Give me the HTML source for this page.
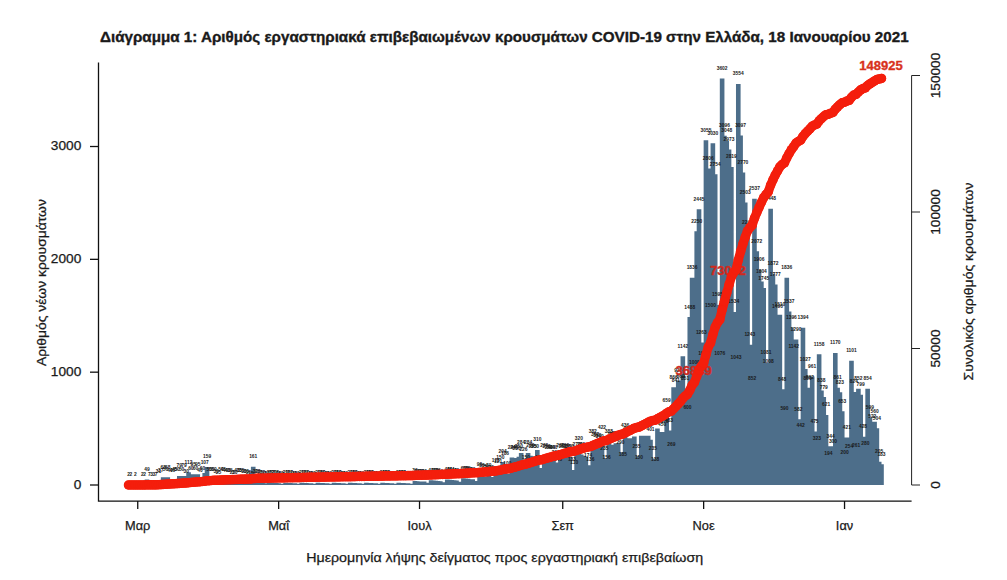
<!DOCTYPE html>
<html><head><meta charset="utf-8"><title>Διάγραμμα 1</title>
<style>html,body{margin:0;padding:0;background:#fff;width:1007px;height:580px;overflow:hidden}</style>
</head><body>
<svg width="1007" height="580" viewBox="0 0 1007 580" style="display:block;font-family:'Liberation Sans', sans-serif"><rect width="1007" height="580" fill="#fff"/><text x="100" y="41.9" font-size="14.6" font-weight="bold" fill="#1a1a1a" stroke="#1a1a1a" stroke-width="0.35" textLength="808.6" lengthAdjust="spacingAndGlyphs">Διάγραμμα 1: Αριθμός εργαστηριακά επιβεβαιωμένων κρουσμάτων COVID-19 στην Ελλάδα, 18 Ιανουαρίου 2021</text><path d="M126.19 484.77h4.62V485H126.19ZM128.50 484.77h4.62V485H128.50ZM133.12 484.77h4.62V485H133.12ZM140.05 484.77h4.62V485H140.05ZM142.36 484.77h4.62V485H142.36ZM144.67 479.47h4.62V485H144.67ZM146.98 484.21h4.62V485H146.98ZM149.29 484.66h4.62V485H149.29ZM151.60 484.66h4.62V485H151.60ZM153.91 484.21h4.62V485H153.91ZM156.22 481.50h4.62V485H156.22ZM158.53 480.83h4.62V485H158.53ZM160.84 477.33h4.62V485H160.84ZM163.15 479.36h4.62V485H163.15ZM165.46 477.33h4.62V485H165.46ZM167.77 480.49h4.62V485H167.77ZM170.08 480.49h4.62V485H170.08ZM172.39 479.92h4.62V485H172.39ZM174.70 479.36h4.62V485H174.70ZM177.01 476.09h4.62V485H177.01ZM179.32 479.36h4.62V485H179.32ZM181.63 476.09h4.62V485H181.63ZM183.94 481.62h4.62V485H183.94ZM186.25 472.36h4.62V485H186.25ZM188.55 478.23h4.62V485H188.55ZM190.86 474.28h4.62V485H190.86ZM193.17 478.23h4.62V485H193.17ZM195.48 474.28h4.62V485H195.48ZM197.79 480.49h4.62V485H197.79ZM200.10 478.23h4.62V485H200.10ZM202.41 472.93h4.62V485H202.41ZM204.72 467.06h4.62V485H204.72ZM207.03 479.36h4.62V485H207.03ZM209.34 479.36h4.62V485H209.34ZM211.65 479.36h4.62V485H211.65ZM213.96 481.62h4.62V485H213.96ZM216.27 482.18h4.62V485H216.27ZM218.58 479.36h4.62V485H218.58ZM220.89 479.92h4.62V485H220.89ZM223.20 480.49h4.62V485H223.20ZM225.51 480.49h4.62V485H225.51ZM227.82 481.05h4.62V485H227.82ZM230.13 482.18h4.62V485H230.13ZM232.44 482.74h4.62V485H232.44ZM234.75 480.49h4.62V485H234.75ZM237.06 481.05h4.62V485H237.06ZM239.37 481.05h4.62V485H239.37ZM241.68 481.62h4.62V485H241.68ZM243.99 481.62h4.62V485H243.99ZM246.30 482.74h4.62V485H246.30ZM248.61 483.31h4.62V485H248.61ZM250.92 466.83h4.62V485H250.92ZM253.23 481.62h4.62V485H253.23ZM255.54 481.84h4.62V485H255.54ZM257.85 482.18h4.62V485H257.85ZM260.16 482.52h4.62V485H260.16ZM262.47 483.31h4.62V485H262.47ZM264.78 483.65h4.62V485H264.78ZM267.09 482.18h4.62V485H267.09ZM269.40 482.52h4.62V485H269.40ZM271.71 482.74h4.62V485H271.71ZM274.02 482.97h4.62V485H274.02ZM276.33 483.19h4.62V485H276.33ZM278.64 483.87h4.62V485H278.64ZM280.95 484.10h4.62V485H280.95ZM283.26 482.74h4.62V485H283.26ZM285.57 482.97h4.62V485H285.57ZM287.88 483.08h4.62V485H287.88ZM290.19 483.19h4.62V485H290.19ZM292.50 483.31h4.62V485H292.50ZM294.81 483.87h4.62V485H294.81ZM297.12 484.10h4.62V485H297.12ZM299.43 482.74h4.62V485H299.43ZM301.74 482.97h4.62V485H301.74ZM304.04 483.08h4.62V485H304.04ZM306.35 483.19h4.62V485H306.35ZM308.66 483.31h4.62V485H308.66ZM310.97 483.87h4.62V485H310.97ZM313.28 484.10h4.62V485H313.28ZM315.59 482.74h4.62V485H315.59ZM317.90 482.97h4.62V485H317.90ZM320.21 483.08h4.62V485H320.21ZM322.52 483.19h4.62V485H322.52ZM324.83 483.31h4.62V485H324.83ZM327.14 483.87h4.62V485H327.14ZM329.45 484.10h4.62V485H329.45ZM331.76 482.74h4.62V485H331.76ZM334.07 482.97h4.62V485H334.07ZM336.38 483.08h4.62V485H336.38ZM338.69 483.19h4.62V485H338.69ZM341.00 483.31h4.62V485H341.00ZM343.31 483.87h4.62V485H343.31ZM345.62 484.10h4.62V485H345.62ZM347.93 482.74h4.62V485H347.93ZM350.24 482.97h4.62V485H350.24ZM352.55 483.08h4.62V485H352.55ZM354.86 483.19h4.62V485H354.86ZM357.17 483.31h4.62V485H357.17ZM359.48 483.87h4.62V485H359.48ZM361.79 484.10h4.62V485H361.79ZM364.10 482.74h4.62V485H364.10ZM366.41 482.97h4.62V485H366.41ZM368.72 483.08h4.62V485H368.72ZM371.03 483.19h4.62V485H371.03ZM373.34 483.31h4.62V485H373.34ZM375.65 483.87h4.62V485H375.65ZM377.96 484.10h4.62V485H377.96ZM380.27 482.74h4.62V485H380.27ZM382.58 482.97h4.62V485H382.58ZM384.89 483.08h4.62V485H384.89ZM387.20 483.19h4.62V485H387.20ZM389.51 483.31h4.62V485H389.51ZM391.82 483.87h4.62V485H391.82ZM394.13 484.10h4.62V485H394.13ZM396.44 482.74h4.62V485H396.44ZM398.75 482.97h4.62V485H398.75ZM401.06 483.08h4.62V485H401.06ZM403.37 483.19h4.62V485H403.37ZM405.68 483.31h4.62V485H405.68ZM407.99 483.87h4.62V485H407.99ZM410.30 484.10h4.62V485H410.30ZM412.61 480.94h4.62V485H412.61ZM414.92 481.16h4.62V485H414.92ZM417.23 481.39h4.62V485H417.23ZM419.53 481.62h4.62V485H419.53ZM421.84 481.62h4.62V485H421.84ZM424.15 482.74h4.62V485H424.15ZM426.46 483.19h4.62V485H426.46ZM428.77 480.26h4.62V485H428.77ZM431.08 480.49h4.62V485H431.08ZM433.39 480.71h4.62V485H433.39ZM435.70 480.94h4.62V485H435.70ZM438.01 481.16h4.62V485H438.01ZM440.32 482.29h4.62V485H440.32ZM442.63 482.97h4.62V485H442.63ZM444.94 479.58h4.62V485H444.94ZM447.25 479.81h4.62V485H447.25ZM449.56 480.04h4.62V485H449.56ZM451.87 480.26h4.62V485H451.87ZM454.18 480.49h4.62V485H454.18ZM456.49 481.84h4.62V485H456.49ZM458.80 482.74h4.62V485H458.80ZM461.11 478.23h4.62V485H461.11ZM463.42 478.46h4.62V485H463.42ZM465.73 478.79h4.62V485H465.73ZM468.04 479.13h4.62V485H468.04ZM470.35 479.36h4.62V485H470.35ZM472.66 480.94h4.62V485H472.66ZM474.97 481.84h4.62V485H474.97ZM477.28 474.85h4.62V485H477.28ZM479.59 475.97h4.62V485H479.59ZM481.90 476.54h4.62V485H481.90ZM484.21 477.10h4.62V485H484.21ZM486.52 475.97h4.62V485H486.52ZM488.83 477.10h4.62V485H488.83ZM491.14 478.23h4.62V485H491.14ZM493.45 470.56h4.62V485H493.45ZM495.76 471.35h4.62V485H495.76ZM498.07 468.08h4.62V485H498.07ZM500.38 461.98h4.62V485H500.38ZM502.69 464.01h4.62V485H502.69ZM505.00 473.72h4.62V485H505.00ZM507.31 477.10h4.62V485H507.31ZM509.62 457.47h4.62V485H509.62ZM511.93 457.92h4.62V485H511.93ZM514.24 459.05h4.62V485H514.24ZM516.55 456.79h4.62V485H516.55ZM518.86 452.96h4.62V485H518.86ZM521.17 459.50h4.62V485H521.17ZM523.48 468.08h4.62V485H523.48ZM525.79 452.96h4.62V485H525.79ZM528.10 455.66h4.62V485H528.10ZM530.41 456.23h4.62V485H530.41ZM532.72 456.79h4.62V485H532.72ZM535.02 450.02h4.62V485H535.02ZM537.33 467.96h4.62V485H537.33ZM539.64 471.46h4.62V485H539.64ZM541.95 455.66h4.62V485H541.95ZM544.26 456.79h4.62V485H544.26ZM546.57 457.92h4.62V485H546.57ZM548.88 457.92h4.62V485H548.88ZM551.19 457.92h4.62V485H551.19ZM553.50 462.43h4.62V485H553.50ZM555.81 469.20h4.62V485H555.81ZM558.12 455.66h4.62V485H558.12ZM560.43 456.68h4.62V485H560.43ZM562.74 455.66h4.62V485H562.74ZM565.05 456.79h4.62V485H565.05ZM567.36 456.79h4.62V485H567.36ZM569.67 469.99h4.62V485H569.67ZM571.98 472.59h4.62V485H571.98ZM574.29 454.54h4.62V485H574.29ZM576.60 448.89h4.62V485H576.60ZM578.91 454.54h4.62V485H578.91ZM581.22 455.66h4.62V485H581.22ZM583.53 456.79h4.62V485H583.53ZM585.84 465.37h4.62V485H585.84ZM588.15 469.66h4.62V485H588.15ZM590.46 441.90h4.62V485H590.46ZM592.77 444.16h4.62V485H592.77ZM595.08 445.51h4.62V485H595.08ZM597.39 446.64h4.62V485H597.39ZM599.70 437.39h4.62V485H599.70ZM602.01 458.48h4.62V485H602.01ZM604.32 467.40h4.62V485H604.32ZM606.63 441.22h4.62V485H606.63ZM608.94 444.72h4.62V485H608.94ZM611.25 444.72h4.62V485H611.25ZM613.56 443.25h4.62V485H613.56ZM615.87 443.25h4.62V485H615.87ZM618.18 452.28h4.62V485H618.18ZM620.49 464.13h4.62V485H620.49ZM622.80 435.81h4.62V485H622.80ZM625.11 438.18h4.62V485H625.11ZM627.42 438.18h4.62V485H627.42ZM629.73 438.18h4.62V485H629.73ZM632.04 436.60h4.62V485H632.04ZM634.35 456.23h4.62V485H634.35ZM636.66 468.08h4.62V485H636.66ZM638.97 435.81h4.62V485H638.97ZM641.28 435.81h4.62V485H641.28ZM643.59 435.81h4.62V485H643.59ZM645.90 435.81h4.62V485H645.90ZM648.21 439.76h4.62V485H648.21ZM650.51 458.48h4.62V485H650.51ZM652.82 469.43h4.62V485H652.82ZM655.13 428.58h4.62V485H655.13ZM657.44 431.97h4.62V485H657.44ZM659.75 434.23h4.62V485H659.75ZM662.06 431.97h4.62V485H662.06ZM664.37 410.65h4.62V485H664.37ZM666.68 430.50h4.62V485H666.68ZM668.99 454.65h4.62V485H668.99ZM671.30 387.29h4.62V485H671.30ZM673.61 390.11h4.62V485H673.61ZM675.92 380.41h4.62V485H675.92ZM678.23 386.95h4.62V485H678.23ZM680.54 356.15h4.62V485H680.54ZM682.85 388.98h4.62V485H682.85ZM685.16 417.30h4.62V485H685.16ZM687.47 317.11h4.62V485H687.47ZM689.78 277.84h4.62V485H689.78ZM692.09 372.17h4.62V485H692.09ZM694.40 231.13h4.62V485H694.40ZM696.71 209.13h4.62V485H696.71ZM699.02 342.50h4.62V485H699.02ZM701.33 363.14h4.62V485H701.33ZM703.64 140.30h4.62V485H703.64ZM705.95 168.40h4.62V485H705.95ZM708.26 315.75h4.62V485H708.26ZM710.57 143.13h4.62V485H710.57ZM712.88 174.27h4.62V485H712.88ZM715.19 305.04h4.62V485H715.19ZM717.50 363.59h4.62V485H717.50ZM719.81 78.59h4.62V485H719.81ZM722.12 135.68h4.62V485H722.12ZM724.43 141.09h4.62V485H724.43ZM726.74 149.56h4.62V485H726.74ZM729.05 166.93h4.62V485H729.05ZM731.36 311.92h4.62V485H731.36ZM733.67 367.32h4.62V485H733.67ZM735.98 84.00h4.62V485H735.98ZM738.29 135.57h4.62V485H738.29ZM740.60 172.46h4.62V485H740.60ZM742.91 202.59h4.62V485H742.91ZM745.22 232.26h4.62V485H745.22ZM747.53 344.75h4.62V485H747.53ZM749.84 388.87h4.62V485H749.84ZM752.15 198.75h4.62V485H752.15ZM754.46 251.22h4.62V485H754.46ZM756.77 269.95h4.62V485H756.77ZM759.08 281.45h4.62V485H759.08ZM761.39 288.11h4.62V485H761.39ZM763.70 363.03h4.62V485H763.70ZM766.00 371.27h4.62V485H766.00ZM768.31 208.79h4.62V485H768.31ZM770.62 273.78h4.62V485H770.62ZM772.93 284.50h4.62V485H772.93ZM775.24 316.88h4.62V485H775.24ZM777.55 314.63h4.62V485H777.55ZM779.86 389.32h4.62V485H779.86ZM782.17 418.43h4.62V485H782.17ZM784.48 277.84h4.62V485H784.48ZM786.79 311.58h4.62V485H786.79ZM789.10 327.49h4.62V485H789.10ZM791.41 356.15h4.62V485H791.41ZM793.72 339.45h4.62V485H793.72ZM796.03 419.33h4.62V485H796.03ZM798.34 435.13h4.62V485H798.34ZM800.65 327.71h4.62V485H800.65ZM802.96 369.12h4.62V485H802.96ZM805.27 389.09h4.62V485H805.27ZM807.58 387.74h4.62V485H807.58ZM809.89 376.57h4.62V485H809.89ZM812.20 431.41h4.62V485H812.20ZM814.51 448.56h4.62V485H814.51ZM816.82 354.34h4.62V485H816.82ZM819.13 390.45h4.62V485H819.13ZM821.44 397.11h4.62V485H821.44ZM823.75 414.93h4.62V485H823.75ZM826.06 463.11h4.62V485H826.06ZM828.37 446.19h4.62V485H828.37ZM830.68 451.15h4.62V485H830.68ZM832.99 352.99h4.62V485H832.99ZM835.30 387.85h4.62V485H835.30ZM837.61 392.14h4.62V485H837.61ZM839.92 411.32h4.62V485H839.92ZM842.23 462.43h4.62V485H842.23ZM844.54 437.50h4.62V485H844.54ZM846.85 456.34h4.62V485H846.85ZM849.16 360.77h4.62V485H849.16ZM851.47 392.03h4.62V485H851.47ZM853.78 455.55h4.62V485H853.78ZM856.09 388.87h4.62V485H856.09ZM858.40 394.85h4.62V485H858.40ZM860.71 436.71h4.62V485H860.71ZM863.02 453.41h4.62V485H863.02ZM865.33 388.64h4.62V485H865.33ZM867.64 417.41h4.62V485H867.64ZM869.95 426.10h4.62V485H869.95ZM872.26 421.82h4.62V485H872.26ZM874.57 428.13h4.62V485H874.57ZM876.88 461.87h4.62V485H876.88ZM879.19 464.35h4.62V485H879.19Z" fill="#4d6e8a"/><g font-size="4.9" font-weight="bold" fill="#1a1a1a" text-anchor="middle"><text x="128.50" y="476.17">2</text><text x="130.81" y="476.17">2</text><text x="135.43" y="476.17">2</text><text x="142.36" y="476.17">2</text><text x="144.67" y="476.17">2</text><text x="146.98" y="470.87">49</text><text x="149.29" y="475.61">7</text><text x="151.60" y="476.06">3</text><text x="153.91" y="476.06">3</text><text x="156.22" y="475.61">7</text><text x="158.53" y="472.90">31</text><text x="160.84" y="472.23">37</text><text x="163.15" y="468.73">68</text><text x="165.46" y="470.76">50</text><text x="167.77" y="468.73">68</text><text x="170.08" y="471.89">40</text><text x="172.39" y="471.89">40</text><text x="174.70" y="471.32">45</text><text x="177.01" y="470.76">50</text><text x="179.32" y="467.49">79</text><text x="181.63" y="470.76">50</text><text x="183.94" y="467.49">79</text><text x="186.25" y="473.02">30</text><text x="188.55" y="463.76">112</text><text x="190.86" y="469.63">60</text><text x="193.17" y="465.68">95</text><text x="195.48" y="469.63">60</text><text x="197.79" y="465.68">95</text><text x="200.10" y="471.89">40</text><text x="202.41" y="469.63">60</text><text x="204.72" y="464.33">107</text><text x="207.03" y="458.46">159</text><text x="209.34" y="470.76">50</text><text x="211.65" y="470.76">50</text><text x="213.96" y="470.76">50</text><text x="216.27" y="473.02">30</text><text x="218.58" y="473.58">25</text><text x="220.89" y="470.76">50</text><text x="223.20" y="471.32">45</text><text x="225.51" y="471.89">40</text><text x="227.82" y="471.89">40</text><text x="230.13" y="472.45">35</text><text x="232.44" y="473.58">25</text><text x="234.75" y="474.14">20</text><text x="237.06" y="471.89">40</text><text x="239.37" y="472.45">35</text><text x="241.68" y="472.45">35</text><text x="243.99" y="473.02">30</text><text x="246.30" y="473.02">30</text><text x="248.61" y="474.14">20</text><text x="250.92" y="474.71">15</text><text x="253.23" y="458.23">161</text><text x="255.54" y="473.02">30</text><text x="257.85" y="473.24">28</text><text x="260.16" y="473.58">25</text><text x="262.47" y="473.92">22</text><text x="264.78" y="474.71">15</text><text x="267.09" y="475.05">12</text><text x="269.40" y="473.58">25</text><text x="271.71" y="473.92">22</text><text x="274.02" y="474.14">20</text><text x="276.33" y="474.37">18</text><text x="278.64" y="474.59">16</text><text x="280.95" y="475.27">10</text><text x="283.26" y="475.50">8</text><text x="285.57" y="474.14">20</text><text x="287.88" y="474.37">18</text><text x="290.19" y="474.48">17</text><text x="292.50" y="474.59">16</text><text x="294.81" y="474.71">15</text><text x="297.12" y="475.27">10</text><text x="299.43" y="475.50">8</text><text x="301.74" y="474.14">20</text><text x="304.04" y="474.37">18</text><text x="306.35" y="474.48">17</text><text x="308.66" y="474.59">16</text><text x="310.97" y="474.71">15</text><text x="313.28" y="475.27">10</text><text x="315.59" y="475.50">8</text><text x="317.90" y="474.14">20</text><text x="320.21" y="474.37">18</text><text x="322.52" y="474.48">17</text><text x="324.83" y="474.59">16</text><text x="327.14" y="474.71">15</text><text x="329.45" y="475.27">10</text><text x="331.76" y="475.50">8</text><text x="334.07" y="474.14">20</text><text x="336.38" y="474.37">18</text><text x="338.69" y="474.48">17</text><text x="341.00" y="474.59">16</text><text x="343.31" y="474.71">15</text><text x="345.62" y="475.27">10</text><text x="347.93" y="475.50">8</text><text x="350.24" y="474.14">20</text><text x="352.55" y="474.37">18</text><text x="354.86" y="474.48">17</text><text x="357.17" y="474.59">16</text><text x="359.48" y="474.71">15</text><text x="361.79" y="475.27">10</text><text x="364.10" y="475.50">8</text><text x="366.41" y="474.14">20</text><text x="368.72" y="474.37">18</text><text x="371.03" y="474.48">17</text><text x="373.34" y="474.59">16</text><text x="375.65" y="474.71">15</text><text x="377.96" y="475.27">10</text><text x="380.27" y="475.50">8</text><text x="382.58" y="474.14">20</text><text x="384.89" y="474.37">18</text><text x="387.20" y="474.48">17</text><text x="389.51" y="474.59">16</text><text x="391.82" y="474.71">15</text><text x="394.13" y="475.27">10</text><text x="396.44" y="475.50">8</text><text x="398.75" y="474.14">20</text><text x="401.06" y="474.37">18</text><text x="403.37" y="474.48">17</text><text x="405.68" y="474.59">16</text><text x="407.99" y="474.71">15</text><text x="410.30" y="475.27">10</text><text x="412.61" y="475.50">8</text><text x="414.92" y="472.34">36</text><text x="417.23" y="472.56">34</text><text x="419.53" y="472.79">32</text><text x="421.84" y="473.02">30</text><text x="424.15" y="473.02">30</text><text x="426.46" y="474.14">20</text><text x="428.77" y="474.59">16</text><text x="431.08" y="471.66">42</text><text x="433.39" y="471.89">40</text><text x="435.70" y="472.11">38</text><text x="438.01" y="472.34">36</text><text x="440.32" y="472.56">34</text><text x="442.63" y="473.69">24</text><text x="444.94" y="474.37">18</text><text x="447.25" y="470.98">48</text><text x="449.56" y="471.21">46</text><text x="451.87" y="471.44">44</text><text x="454.18" y="471.66">42</text><text x="456.49" y="471.89">40</text><text x="458.80" y="473.24">28</text><text x="461.11" y="474.14">20</text><text x="463.42" y="469.63">60</text><text x="465.73" y="469.86">58</text><text x="468.04" y="470.19">55</text><text x="470.35" y="470.53">52</text><text x="472.66" y="470.76">50</text><text x="474.97" y="472.34">36</text><text x="477.28" y="473.24">28</text><text x="479.59" y="466.25">90</text><text x="481.90" y="467.37">80</text><text x="484.21" y="467.94">75</text><text x="486.52" y="468.50">70</text><text x="488.83" y="467.37">80</text><text x="491.14" y="468.50">70</text><text x="493.45" y="469.63">60</text><text x="495.76" y="461.96">128</text><text x="498.07" y="462.75">121</text><text x="500.38" y="459.48">150</text><text x="502.69" y="453.38">204</text><text x="505.00" y="455.41">186</text><text x="507.31" y="465.12">100</text><text x="509.62" y="468.50">70</text><text x="511.93" y="448.87">244</text><text x="514.24" y="449.32">240</text><text x="516.55" y="450.45">230</text><text x="518.86" y="448.19">250</text><text x="521.17" y="444.36">284</text><text x="523.48" y="450.90">226</text><text x="525.79" y="459.48">150</text><text x="528.10" y="444.36">284</text><text x="530.41" y="447.06">260</text><text x="532.72" y="447.63">255</text><text x="535.02" y="448.19">250</text><text x="537.33" y="441.42">310</text><text x="539.64" y="459.36">151</text><text x="541.95" y="462.86">120</text><text x="544.26" y="447.06">260</text><text x="546.57" y="448.19">250</text><text x="548.88" y="449.32">240</text><text x="551.19" y="449.32">240</text><text x="553.50" y="449.32">240</text><text x="555.81" y="453.83">200</text><text x="558.12" y="460.60">140</text><text x="560.43" y="447.06">260</text><text x="562.74" y="448.08">251</text><text x="565.05" y="447.06">260</text><text x="567.36" y="448.19">250</text><text x="569.67" y="448.19">250</text><text x="571.98" y="461.39">133</text><text x="574.29" y="463.99">110</text><text x="576.60" y="445.94">270</text><text x="578.91" y="440.29">320</text><text x="581.22" y="445.94">270</text><text x="583.53" y="447.06">260</text><text x="585.84" y="448.19">250</text><text x="588.15" y="456.77">174</text><text x="590.46" y="461.06">136</text><text x="592.77" y="433.30">382</text><text x="595.08" y="435.56">362</text><text x="597.39" y="436.91">350</text><text x="599.70" y="438.04">340</text><text x="602.01" y="428.79">422</text><text x="604.32" y="449.88">235</text><text x="606.63" y="458.80">156</text><text x="608.94" y="432.62">388</text><text x="611.25" y="436.12">357</text><text x="613.56" y="436.12">357</text><text x="615.87" y="434.65">370</text><text x="618.18" y="434.65">370</text><text x="620.49" y="443.68">290</text><text x="622.80" y="455.53">185</text><text x="625.11" y="427.21">436</text><text x="627.42" y="429.58">415</text><text x="629.73" y="429.58">415</text><text x="632.04" y="429.58">415</text><text x="634.35" y="428.00">429</text><text x="636.66" y="447.63">255</text><text x="638.97" y="459.48">150</text><text x="641.28" y="427.21">436</text><text x="643.59" y="427.21">436</text><text x="645.90" y="427.21">436</text><text x="648.21" y="427.21">436</text><text x="650.51" y="431.16">401</text><text x="652.82" y="449.88">235</text><text x="655.13" y="460.83">138</text><text x="657.44" y="419.98">500</text><text x="659.75" y="423.37">470</text><text x="662.06" y="425.63">450</text><text x="664.37" y="423.37">470</text><text x="666.68" y="402.05">659</text><text x="668.99" y="421.90">483</text><text x="671.30" y="446.05">269</text><text x="673.61" y="378.69">866</text><text x="675.92" y="381.51">841</text><text x="678.23" y="371.81">927</text><text x="680.54" y="378.35">869</text><text x="682.85" y="347.55">1142</text><text x="685.16" y="380.38">851</text><text x="687.47" y="408.70">600</text><text x="689.78" y="308.51">1488</text><text x="692.09" y="269.24">1836</text><text x="694.40" y="363.57">1000</text><text x="696.71" y="222.53">2250</text><text x="699.02" y="200.53">2445</text><text x="701.33" y="333.90">1263</text><text x="703.64" y="354.54">1080</text><text x="705.95" y="131.70">3055</text><text x="708.26" y="159.80">2806</text><text x="710.57" y="307.15">1500</text><text x="712.88" y="134.53">3030</text><text x="715.19" y="165.67">2754</text><text x="717.50" y="296.44">1595</text><text x="719.81" y="354.99">1076</text><text x="722.12" y="69.99">3602</text><text x="724.43" y="127.08">3096</text><text x="726.74" y="132.49">3048</text><text x="729.05" y="140.96">2973</text><text x="731.36" y="158.33">2819</text><text x="733.67" y="303.32">1534</text><text x="735.98" y="358.72">1043</text><text x="738.29" y="75.40">3554</text><text x="740.60" y="126.97">3097</text><text x="742.91" y="163.86">2770</text><text x="745.22" y="193.99">2503</text><text x="747.53" y="223.66">2240</text><text x="749.84" y="336.15">1243</text><text x="752.15" y="380.27">852</text><text x="754.46" y="190.15">2537</text><text x="756.77" y="242.62">2072</text><text x="759.08" y="261.35">1906</text><text x="761.39" y="272.85">1804</text><text x="763.70" y="279.51">1745</text><text x="766.00" y="354.43">1081</text><text x="768.31" y="362.67">1008</text><text x="770.62" y="200.19">2448</text><text x="772.93" y="265.18">1872</text><text x="775.24" y="275.90">1777</text><text x="777.55" y="308.28">1490</text><text x="779.86" y="306.03">1510</text><text x="782.17" y="380.72">848</text><text x="784.48" y="409.83">590</text><text x="786.79" y="269.24">1836</text><text x="789.10" y="302.98">1537</text><text x="791.41" y="318.89">1396</text><text x="793.72" y="347.55">1142</text><text x="796.03" y="330.85">1290</text><text x="798.34" y="410.73">582</text><text x="800.65" y="426.53">442</text><text x="802.96" y="319.11">1394</text><text x="805.27" y="360.52">1027</text><text x="807.58" y="380.49">850</text><text x="809.89" y="379.14">862</text><text x="812.20" y="367.97">961</text><text x="814.51" y="422.81">475</text><text x="816.82" y="439.96">323</text><text x="819.13" y="345.74">1158</text><text x="821.44" y="381.85">838</text><text x="823.75" y="388.51">779</text><text x="826.06" y="406.33">621</text><text x="828.37" y="454.51">194</text><text x="830.68" y="437.59">344</text><text x="832.99" y="442.55">300</text><text x="835.30" y="344.39">1170</text><text x="837.61" y="379.25">861</text><text x="839.92" y="383.54">823</text><text x="842.23" y="402.72">653</text><text x="844.54" y="453.83">200</text><text x="846.85" y="428.90">421</text><text x="849.16" y="447.74">254</text><text x="851.47" y="352.17">1101</text><text x="853.78" y="383.43">824</text><text x="856.09" y="446.95">261</text><text x="858.40" y="380.27">852</text><text x="860.71" y="386.25">799</text><text x="863.02" y="428.11">428</text><text x="865.33" y="444.81">280</text><text x="867.64" y="380.04">854</text><text x="869.95" y="408.81">599</text><text x="872.26" y="417.50">522</text><text x="874.57" y="413.22">560</text><text x="876.88" y="419.53">504</text><text x="879.19" y="453.27">205</text><text x="881.49" y="455.75">183</text></g><g font-size="13" font-weight="bold" fill="#cf2a1e" stroke="#cf2a1e" stroke-width="0.4" text-anchor="middle"><text x="693.6" y="375">36849</text><text x="728" y="275">73062</text></g><polyline points="128.50,484.99 130.81,484.99 133.12,484.99 135.43,484.98 137.74,484.98 140.05,484.98 142.36,484.98 144.67,484.97 146.98,484.84 149.29,484.82 151.60,484.81 153.91,484.80 156.22,484.78 158.53,484.70 160.84,484.60 163.15,484.41 165.46,484.27 167.77,484.08 170.08,483.97 172.39,483.86 174.70,483.74 177.01,483.60 179.32,483.39 181.63,483.25 183.94,483.03 186.25,482.95 188.55,482.64 190.86,482.48 193.17,482.22 195.48,482.05 197.79,481.79 200.10,481.68 202.41,481.51 204.72,481.22 207.03,480.78 209.34,480.65 211.65,480.51 213.96,480.37 216.27,480.29 218.58,480.22 220.89,480.08 223.20,479.96 225.51,479.85 227.82,479.74 230.13,479.64 232.44,479.57 234.75,479.52 237.06,479.41 239.37,479.31 241.68,479.22 243.99,479.13 246.30,479.05 248.61,479.00 250.92,478.96 253.23,478.51 255.54,478.43 257.85,478.35 260.16,478.29 262.47,478.22 264.78,478.18 267.09,478.15 269.40,478.08 271.71,478.02 274.02,477.97 276.33,477.92 278.64,477.87 280.95,477.85 283.26,477.82 285.57,477.77 287.88,477.72 290.19,477.67 292.50,477.63 294.81,477.59 297.12,477.56 299.43,477.54 301.74,477.48 304.04,477.43 306.35,477.39 308.66,477.34 310.97,477.30 313.28,477.27 315.59,477.25 317.90,477.20 320.21,477.15 322.52,477.10 324.83,477.06 327.14,477.02 329.45,476.99 331.76,476.97 334.07,476.91 336.38,476.86 338.69,476.81 341.00,476.77 343.31,476.73 345.62,476.70 347.93,476.68 350.24,476.63 352.55,476.58 354.86,476.53 357.17,476.49 359.48,476.44 361.79,476.42 364.10,476.39 366.41,476.34 368.72,476.29 371.03,476.24 373.34,476.20 375.65,476.16 377.96,476.13 380.27,476.11 382.58,476.05 384.89,476.00 387.20,475.96 389.51,475.91 391.82,475.87 394.13,475.84 396.44,475.82 398.75,475.77 401.06,475.72 403.37,475.67 405.68,475.63 407.99,475.59 410.30,475.56 412.61,475.54 414.92,475.44 417.23,475.34 419.53,475.26 421.84,475.17 424.15,475.09 426.46,475.04 428.77,474.99 431.08,474.88 433.39,474.77 435.70,474.66 438.01,474.56 440.32,474.47 442.63,474.40 444.94,474.35 447.25,474.22 449.56,474.10 451.87,473.98 454.18,473.86 456.49,473.75 458.80,473.67 461.11,473.62 463.42,473.45 465.73,473.29 468.04,473.14 470.35,473.00 472.66,472.86 474.97,472.76 477.28,472.69 479.59,472.44 481.90,472.22 484.21,472.01 486.52,471.82 488.83,471.60 491.14,471.41 493.45,471.24 495.76,470.89 498.07,470.56 500.38,470.15 502.69,469.59 505.00,469.08 507.31,468.80 509.62,468.61 511.93,467.94 514.24,467.28 516.55,466.65 518.86,465.96 521.17,465.18 523.48,464.56 525.79,464.14 528.10,463.36 530.41,462.65 532.72,461.95 535.02,461.26 537.33,460.41 539.64,459.99 541.95,459.66 544.26,458.95 546.57,458.26 548.88,457.60 551.19,456.94 553.50,456.28 555.81,455.73 558.12,455.35 560.43,454.63 562.74,453.94 565.05,453.23 567.36,452.54 569.67,451.86 571.98,451.49 574.29,451.19 576.60,450.45 578.91,449.57 581.22,448.82 583.53,448.11 585.84,447.42 588.15,446.94 590.46,446.57 592.77,445.52 595.08,444.53 597.39,443.56 599.70,442.63 602.01,441.47 604.32,440.82 606.63,440.39 608.94,439.33 611.25,438.35 613.56,437.37 615.87,436.35 618.18,435.33 620.49,434.53 622.80,434.03 625.11,432.83 627.42,431.69 629.73,430.55 632.04,429.41 634.35,428.23 636.66,427.53 638.97,427.11 641.28,425.91 643.59,424.72 645.90,423.52 648.21,422.32 650.51,421.22 652.82,420.57 655.13,420.19 657.44,418.82 659.75,417.53 662.06,416.29 664.37,415.00 666.68,413.19 668.99,411.86 671.30,411.12 673.61,408.74 675.92,406.43 678.23,403.88 680.54,401.49 682.85,398.35 685.16,396.01 687.47,394.36 689.78,390.27 692.09,385.23 694.40,382.48 696.71,376.30 699.02,369.58 701.33,366.10 703.64,363.14 705.95,354.74 708.26,347.03 710.57,342.90 712.88,334.58 715.19,327.01 717.50,322.62 719.81,319.66 722.12,309.76 724.43,301.26 726.74,292.88 729.05,284.71 731.36,276.96 733.67,272.74 735.98,269.88 738.29,260.11 740.60,251.59 742.91,243.98 745.22,237.10 747.53,230.95 749.84,227.53 752.15,225.19 754.46,218.21 756.77,212.52 759.08,207.28 761.39,202.32 763.70,197.53 766.00,194.55 768.31,191.78 770.62,185.06 772.93,179.91 775.24,175.03 777.55,170.93 779.86,166.78 782.17,164.45 784.48,162.83 786.79,157.78 789.10,153.56 791.41,149.72 793.72,146.58 796.03,143.04 798.34,141.44 800.65,140.22 802.96,136.39 805.27,133.57 807.58,131.23 809.89,128.86 812.20,126.22 814.51,124.92 816.82,124.03 819.13,120.84 821.44,118.54 823.75,116.40 826.06,114.69 828.37,114.16 830.68,113.21 832.99,112.39 835.30,109.17 837.61,106.81 839.92,104.55 842.23,102.75 844.54,102.20 846.85,101.04 849.16,100.35 851.47,97.32 853.78,95.06 856.09,94.34 858.40,92.00 860.71,89.80 863.02,88.62 865.33,87.85 867.64,85.51 869.95,83.86 872.26,82.43 874.57,80.89 876.88,79.50 879.19,78.94 881.49,78.43" fill="none" stroke="#f41e0c" stroke-width="9.2" stroke-linecap="round" stroke-linejoin="round"/><g fill="#f41e0c"><circle cx="128.50" cy="484.99" r="4.75"/><circle cx="130.81" cy="484.99" r="4.75"/><circle cx="133.12" cy="484.99" r="4.75"/><circle cx="135.43" cy="484.98" r="4.75"/><circle cx="137.74" cy="484.98" r="4.75"/><circle cx="140.05" cy="484.98" r="4.75"/><circle cx="142.36" cy="484.98" r="4.75"/><circle cx="144.67" cy="484.97" r="4.75"/><circle cx="146.98" cy="484.84" r="4.75"/><circle cx="149.29" cy="484.82" r="4.75"/><circle cx="151.60" cy="484.81" r="4.75"/><circle cx="153.91" cy="484.80" r="4.75"/><circle cx="156.22" cy="484.78" r="4.75"/><circle cx="158.53" cy="484.70" r="4.75"/><circle cx="160.84" cy="484.60" r="4.75"/><circle cx="163.15" cy="484.41" r="4.75"/><circle cx="165.46" cy="484.27" r="4.75"/><circle cx="167.77" cy="484.08" r="4.75"/><circle cx="170.08" cy="483.97" r="4.75"/><circle cx="172.39" cy="483.86" r="4.75"/><circle cx="174.70" cy="483.74" r="4.75"/><circle cx="177.01" cy="483.60" r="4.75"/><circle cx="179.32" cy="483.39" r="4.75"/><circle cx="181.63" cy="483.25" r="4.75"/><circle cx="183.94" cy="483.03" r="4.75"/><circle cx="186.25" cy="482.95" r="4.75"/><circle cx="188.55" cy="482.64" r="4.75"/><circle cx="190.86" cy="482.48" r="4.75"/><circle cx="193.17" cy="482.22" r="4.75"/><circle cx="195.48" cy="482.05" r="4.75"/><circle cx="197.79" cy="481.79" r="4.75"/><circle cx="200.10" cy="481.68" r="4.75"/><circle cx="202.41" cy="481.51" r="4.75"/><circle cx="204.72" cy="481.22" r="4.75"/><circle cx="207.03" cy="480.78" r="4.75"/><circle cx="209.34" cy="480.65" r="4.75"/><circle cx="211.65" cy="480.51" r="4.75"/><circle cx="213.96" cy="480.37" r="4.75"/><circle cx="216.27" cy="480.29" r="4.75"/><circle cx="218.58" cy="480.22" r="4.75"/><circle cx="220.89" cy="480.08" r="4.75"/><circle cx="223.20" cy="479.96" r="4.75"/><circle cx="225.51" cy="479.85" r="4.75"/><circle cx="227.82" cy="479.74" r="4.75"/><circle cx="230.13" cy="479.64" r="4.75"/><circle cx="232.44" cy="479.57" r="4.75"/><circle cx="234.75" cy="479.52" r="4.75"/><circle cx="237.06" cy="479.41" r="4.75"/><circle cx="239.37" cy="479.31" r="4.75"/><circle cx="241.68" cy="479.22" r="4.75"/><circle cx="243.99" cy="479.13" r="4.75"/><circle cx="246.30" cy="479.05" r="4.75"/><circle cx="248.61" cy="479.00" r="4.75"/><circle cx="250.92" cy="478.96" r="4.75"/><circle cx="253.23" cy="478.51" r="4.75"/><circle cx="255.54" cy="478.43" r="4.75"/><circle cx="257.85" cy="478.35" r="4.75"/><circle cx="260.16" cy="478.29" r="4.75"/><circle cx="262.47" cy="478.22" r="4.75"/><circle cx="264.78" cy="478.18" r="4.75"/><circle cx="267.09" cy="478.15" r="4.75"/><circle cx="269.40" cy="478.08" r="4.75"/><circle cx="271.71" cy="478.02" r="4.75"/><circle cx="274.02" cy="477.97" r="4.75"/><circle cx="276.33" cy="477.92" r="4.75"/><circle cx="278.64" cy="477.87" r="4.75"/><circle cx="280.95" cy="477.85" r="4.75"/><circle cx="283.26" cy="477.82" r="4.75"/><circle cx="285.57" cy="477.77" r="4.75"/><circle cx="287.88" cy="477.72" r="4.75"/><circle cx="290.19" cy="477.67" r="4.75"/><circle cx="292.50" cy="477.63" r="4.75"/><circle cx="294.81" cy="477.59" r="4.75"/><circle cx="297.12" cy="477.56" r="4.75"/><circle cx="299.43" cy="477.54" r="4.75"/><circle cx="301.74" cy="477.48" r="4.75"/><circle cx="304.04" cy="477.43" r="4.75"/><circle cx="306.35" cy="477.39" r="4.75"/><circle cx="308.66" cy="477.34" r="4.75"/><circle cx="310.97" cy="477.30" r="4.75"/><circle cx="313.28" cy="477.27" r="4.75"/><circle cx="315.59" cy="477.25" r="4.75"/><circle cx="317.90" cy="477.20" r="4.75"/><circle cx="320.21" cy="477.15" r="4.75"/><circle cx="322.52" cy="477.10" r="4.75"/><circle cx="324.83" cy="477.06" r="4.75"/><circle cx="327.14" cy="477.02" r="4.75"/><circle cx="329.45" cy="476.99" r="4.75"/><circle cx="331.76" cy="476.97" r="4.75"/><circle cx="334.07" cy="476.91" r="4.75"/><circle cx="336.38" cy="476.86" r="4.75"/><circle cx="338.69" cy="476.81" r="4.75"/><circle cx="341.00" cy="476.77" r="4.75"/><circle cx="343.31" cy="476.73" r="4.75"/><circle cx="345.62" cy="476.70" r="4.75"/><circle cx="347.93" cy="476.68" r="4.75"/><circle cx="350.24" cy="476.63" r="4.75"/><circle cx="352.55" cy="476.58" r="4.75"/><circle cx="354.86" cy="476.53" r="4.75"/><circle cx="357.17" cy="476.49" r="4.75"/><circle cx="359.48" cy="476.44" r="4.75"/><circle cx="361.79" cy="476.42" r="4.75"/><circle cx="364.10" cy="476.39" r="4.75"/><circle cx="366.41" cy="476.34" r="4.75"/><circle cx="368.72" cy="476.29" r="4.75"/><circle cx="371.03" cy="476.24" r="4.75"/><circle cx="373.34" cy="476.20" r="4.75"/><circle cx="375.65" cy="476.16" r="4.75"/><circle cx="377.96" cy="476.13" r="4.75"/><circle cx="380.27" cy="476.11" r="4.75"/><circle cx="382.58" cy="476.05" r="4.75"/><circle cx="384.89" cy="476.00" r="4.75"/><circle cx="387.20" cy="475.96" r="4.75"/><circle cx="389.51" cy="475.91" r="4.75"/><circle cx="391.82" cy="475.87" r="4.75"/><circle cx="394.13" cy="475.84" r="4.75"/><circle cx="396.44" cy="475.82" r="4.75"/><circle cx="398.75" cy="475.77" r="4.75"/><circle cx="401.06" cy="475.72" r="4.75"/><circle cx="403.37" cy="475.67" r="4.75"/><circle cx="405.68" cy="475.63" r="4.75"/><circle cx="407.99" cy="475.59" r="4.75"/><circle cx="410.30" cy="475.56" r="4.75"/><circle cx="412.61" cy="475.54" r="4.75"/><circle cx="414.92" cy="475.44" r="4.75"/><circle cx="417.23" cy="475.34" r="4.75"/><circle cx="419.53" cy="475.26" r="4.75"/><circle cx="421.84" cy="475.17" r="4.75"/><circle cx="424.15" cy="475.09" r="4.75"/><circle cx="426.46" cy="475.04" r="4.75"/><circle cx="428.77" cy="474.99" r="4.75"/><circle cx="431.08" cy="474.88" r="4.75"/><circle cx="433.39" cy="474.77" r="4.75"/><circle cx="435.70" cy="474.66" r="4.75"/><circle cx="438.01" cy="474.56" r="4.75"/><circle cx="440.32" cy="474.47" r="4.75"/><circle cx="442.63" cy="474.40" r="4.75"/><circle cx="444.94" cy="474.35" r="4.75"/><circle cx="447.25" cy="474.22" r="4.75"/><circle cx="449.56" cy="474.10" r="4.75"/><circle cx="451.87" cy="473.98" r="4.75"/><circle cx="454.18" cy="473.86" r="4.75"/><circle cx="456.49" cy="473.75" r="4.75"/><circle cx="458.80" cy="473.67" r="4.75"/><circle cx="461.11" cy="473.62" r="4.75"/><circle cx="463.42" cy="473.45" r="4.75"/><circle cx="465.73" cy="473.29" r="4.75"/><circle cx="468.04" cy="473.14" r="4.75"/><circle cx="470.35" cy="473.00" r="4.75"/><circle cx="472.66" cy="472.86" r="4.75"/><circle cx="474.97" cy="472.76" r="4.75"/><circle cx="477.28" cy="472.69" r="4.75"/><circle cx="479.59" cy="472.44" r="4.75"/><circle cx="481.90" cy="472.22" r="4.75"/><circle cx="484.21" cy="472.01" r="4.75"/><circle cx="486.52" cy="471.82" r="4.75"/><circle cx="488.83" cy="471.60" r="4.75"/><circle cx="491.14" cy="471.41" r="4.75"/><circle cx="493.45" cy="471.24" r="4.75"/><circle cx="495.76" cy="470.89" r="4.75"/><circle cx="498.07" cy="470.56" r="4.75"/><circle cx="500.38" cy="470.15" r="4.75"/><circle cx="502.69" cy="469.59" r="4.75"/><circle cx="505.00" cy="469.08" r="4.75"/><circle cx="507.31" cy="468.80" r="4.75"/><circle cx="509.62" cy="468.61" r="4.75"/><circle cx="511.93" cy="467.94" r="4.75"/><circle cx="514.24" cy="467.28" r="4.75"/><circle cx="516.55" cy="466.65" r="4.75"/><circle cx="518.86" cy="465.96" r="4.75"/><circle cx="521.17" cy="465.18" r="4.75"/><circle cx="523.48" cy="464.56" r="4.75"/><circle cx="525.79" cy="464.14" r="4.75"/><circle cx="528.10" cy="463.36" r="4.75"/><circle cx="530.41" cy="462.65" r="4.75"/><circle cx="532.72" cy="461.95" r="4.75"/><circle cx="535.02" cy="461.26" r="4.75"/><circle cx="537.33" cy="460.41" r="4.75"/><circle cx="539.64" cy="459.99" r="4.75"/><circle cx="541.95" cy="459.66" r="4.75"/><circle cx="544.26" cy="458.95" r="4.75"/><circle cx="546.57" cy="458.26" r="4.75"/><circle cx="548.88" cy="457.60" r="4.75"/><circle cx="551.19" cy="456.94" r="4.75"/><circle cx="553.50" cy="456.28" r="4.75"/><circle cx="555.81" cy="455.73" r="4.75"/><circle cx="558.12" cy="455.35" r="4.75"/><circle cx="560.43" cy="454.63" r="4.75"/><circle cx="562.74" cy="453.94" r="4.75"/><circle cx="565.05" cy="453.23" r="4.75"/><circle cx="567.36" cy="452.54" r="4.75"/><circle cx="569.67" cy="451.86" r="4.75"/><circle cx="571.98" cy="451.49" r="4.75"/><circle cx="574.29" cy="451.19" r="4.75"/><circle cx="576.60" cy="450.45" r="4.75"/><circle cx="578.91" cy="449.57" r="4.75"/><circle cx="581.22" cy="448.82" r="4.75"/><circle cx="583.53" cy="448.11" r="4.75"/><circle cx="585.84" cy="447.42" r="4.75"/><circle cx="588.15" cy="446.94" r="4.75"/><circle cx="590.46" cy="446.57" r="4.75"/><circle cx="592.77" cy="445.52" r="4.75"/><circle cx="595.08" cy="444.53" r="4.75"/><circle cx="597.39" cy="443.56" r="4.75"/><circle cx="599.70" cy="442.63" r="4.75"/><circle cx="602.01" cy="441.47" r="4.75"/><circle cx="604.32" cy="440.82" r="4.75"/><circle cx="606.63" cy="440.39" r="4.75"/><circle cx="608.94" cy="439.33" r="4.75"/><circle cx="611.25" cy="438.35" r="4.75"/><circle cx="613.56" cy="437.37" r="4.75"/><circle cx="615.87" cy="436.35" r="4.75"/><circle cx="618.18" cy="435.33" r="4.75"/><circle cx="620.49" cy="434.53" r="4.75"/><circle cx="622.80" cy="434.03" r="4.75"/><circle cx="625.11" cy="432.83" r="4.75"/><circle cx="627.42" cy="431.69" r="4.75"/><circle cx="629.73" cy="430.55" r="4.75"/><circle cx="632.04" cy="429.41" r="4.75"/><circle cx="634.35" cy="428.23" r="4.75"/><circle cx="636.66" cy="427.53" r="4.75"/><circle cx="638.97" cy="427.11" r="4.75"/><circle cx="641.28" cy="425.91" r="4.75"/><circle cx="643.59" cy="424.72" r="4.75"/><circle cx="645.90" cy="423.52" r="4.75"/><circle cx="648.21" cy="422.32" r="4.75"/><circle cx="650.51" cy="421.22" r="4.75"/><circle cx="652.82" cy="420.57" r="4.75"/><circle cx="655.13" cy="420.19" r="4.75"/><circle cx="657.44" cy="418.82" r="4.75"/><circle cx="659.75" cy="417.53" r="4.75"/><circle cx="662.06" cy="416.29" r="4.75"/><circle cx="664.37" cy="415.00" r="4.75"/><circle cx="666.68" cy="413.19" r="4.75"/><circle cx="668.99" cy="411.86" r="4.75"/><circle cx="671.30" cy="411.12" r="4.75"/><circle cx="673.61" cy="408.74" r="4.75"/><circle cx="675.92" cy="406.43" r="4.75"/><circle cx="678.23" cy="403.88" r="4.75"/><circle cx="680.54" cy="401.49" r="4.75"/><circle cx="682.85" cy="398.35" r="4.75"/><circle cx="685.16" cy="396.01" r="4.75"/><circle cx="687.47" cy="394.36" r="4.75"/><circle cx="689.78" cy="390.27" r="4.75"/><circle cx="692.09" cy="385.23" r="4.75"/><circle cx="694.40" cy="382.48" r="4.75"/><circle cx="696.71" cy="376.30" r="4.75"/><circle cx="699.02" cy="369.58" r="4.75"/><circle cx="701.33" cy="366.10" r="4.75"/><circle cx="703.64" cy="363.14" r="4.75"/><circle cx="705.95" cy="354.74" r="4.75"/><circle cx="708.26" cy="347.03" r="4.75"/><circle cx="710.57" cy="342.90" r="4.75"/><circle cx="712.88" cy="334.58" r="4.75"/><circle cx="715.19" cy="327.01" r="4.75"/><circle cx="717.50" cy="322.62" r="4.75"/><circle cx="719.81" cy="319.66" r="4.75"/><circle cx="722.12" cy="309.76" r="4.75"/><circle cx="724.43" cy="301.26" r="4.75"/><circle cx="726.74" cy="292.88" r="4.75"/><circle cx="729.05" cy="284.71" r="4.75"/><circle cx="731.36" cy="276.96" r="4.75"/><circle cx="733.67" cy="272.74" r="4.75"/><circle cx="735.98" cy="269.88" r="4.75"/><circle cx="738.29" cy="260.11" r="4.75"/><circle cx="740.60" cy="251.59" r="4.75"/><circle cx="742.91" cy="243.98" r="4.75"/><circle cx="745.22" cy="237.10" r="4.75"/><circle cx="747.53" cy="230.95" r="4.75"/><circle cx="749.84" cy="227.53" r="4.75"/><circle cx="752.15" cy="225.19" r="4.75"/><circle cx="754.46" cy="218.21" r="4.75"/><circle cx="756.77" cy="212.52" r="4.75"/><circle cx="759.08" cy="207.28" r="4.75"/><circle cx="761.39" cy="202.32" r="4.75"/><circle cx="763.70" cy="197.53" r="4.75"/><circle cx="766.00" cy="194.55" r="4.75"/><circle cx="768.31" cy="191.78" r="4.75"/><circle cx="770.62" cy="185.06" r="4.75"/><circle cx="772.93" cy="179.91" r="4.75"/><circle cx="775.24" cy="175.03" r="4.75"/><circle cx="777.55" cy="170.93" r="4.75"/><circle cx="779.86" cy="166.78" r="4.75"/><circle cx="782.17" cy="164.45" r="4.75"/><circle cx="784.48" cy="162.83" r="4.75"/><circle cx="786.79" cy="157.78" r="4.75"/><circle cx="789.10" cy="153.56" r="4.75"/><circle cx="791.41" cy="149.72" r="4.75"/><circle cx="793.72" cy="146.58" r="4.75"/><circle cx="796.03" cy="143.04" r="4.75"/><circle cx="798.34" cy="141.44" r="4.75"/><circle cx="800.65" cy="140.22" r="4.75"/><circle cx="802.96" cy="136.39" r="4.75"/><circle cx="805.27" cy="133.57" r="4.75"/><circle cx="807.58" cy="131.23" r="4.75"/><circle cx="809.89" cy="128.86" r="4.75"/><circle cx="812.20" cy="126.22" r="4.75"/><circle cx="814.51" cy="124.92" r="4.75"/><circle cx="816.82" cy="124.03" r="4.75"/><circle cx="819.13" cy="120.84" r="4.75"/><circle cx="821.44" cy="118.54" r="4.75"/><circle cx="823.75" cy="116.40" r="4.75"/><circle cx="826.06" cy="114.69" r="4.75"/><circle cx="828.37" cy="114.16" r="4.75"/><circle cx="830.68" cy="113.21" r="4.75"/><circle cx="832.99" cy="112.39" r="4.75"/><circle cx="835.30" cy="109.17" r="4.75"/><circle cx="837.61" cy="106.81" r="4.75"/><circle cx="839.92" cy="104.55" r="4.75"/><circle cx="842.23" cy="102.75" r="4.75"/><circle cx="844.54" cy="102.20" r="4.75"/><circle cx="846.85" cy="101.04" r="4.75"/><circle cx="849.16" cy="100.35" r="4.75"/><circle cx="851.47" cy="97.32" r="4.75"/><circle cx="853.78" cy="95.06" r="4.75"/><circle cx="856.09" cy="94.34" r="4.75"/><circle cx="858.40" cy="92.00" r="4.75"/><circle cx="860.71" cy="89.80" r="4.75"/><circle cx="863.02" cy="88.62" r="4.75"/><circle cx="865.33" cy="87.85" r="4.75"/><circle cx="867.64" cy="85.51" r="4.75"/><circle cx="869.95" cy="83.86" r="4.75"/><circle cx="872.26" cy="82.43" r="4.75"/><circle cx="874.57" cy="80.89" r="4.75"/><circle cx="876.88" cy="79.50" r="4.75"/><circle cx="879.19" cy="78.94" r="4.75"/><circle cx="881.49" cy="78.43" r="4.75"/></g><text x="881" y="69.7" font-size="13" font-weight="bold" fill="#d8321c" stroke="#d8321c" stroke-width="0.35" text-anchor="middle">148925</text><g stroke="#111" stroke-width="1.3" fill="none"><path d="M98.5 62.4V501.2H911.6"/><path d="M90 485.00H98.5"/><path d="M90 372.17H98.5"/><path d="M90 259.34H98.5"/><path d="M90 146.51H98.5"/></g><g stroke="#222" stroke-width="1" fill="none"><path d="M911.6 75.5V485"/><path d="M911.6 485.00H920"/><path d="M911.6 348.50H920"/><path d="M911.6 212.00H920"/><path d="M911.6 75.50H920"/></g><g stroke="#111" stroke-width="1.3"><path d="M137.74 501V509"/><path d="M278.64 501V509"/><path d="M419.53 501V509"/><path d="M562.74 501V509"/><path d="M703.64 501V509"/><path d="M844.54 501V509"/></g><g font-size="12.8" fill="#1a1a1a" stroke="#1a1a1a" stroke-width="0.25" text-anchor="middle"><text x="137.74" y="529.5">Μαρ</text><text x="278.64" y="529.5">Μαΐ</text><text x="419.53" y="529.5">Ιουλ</text><text x="562.74" y="529.5">Σεπ</text><text x="703.64" y="529.5">Νοε</text><text x="844.54" y="529.5">Ιαν</text></g><g font-size="12.8" fill="#1a1a1a" stroke="#1a1a1a" stroke-width="0.25" text-anchor="end"><text x="81.3" y="488.60" textLength="7.62" lengthAdjust="spacingAndGlyphs">0</text><text x="81.3" y="375.77" textLength="30.48" lengthAdjust="spacingAndGlyphs">1000</text><text x="81.3" y="262.94" textLength="30.48" lengthAdjust="spacingAndGlyphs">2000</text><text x="81.3" y="150.11" textLength="30.48" lengthAdjust="spacingAndGlyphs">3000</text></g><g font-size="12.4" fill="#1a1a1a" stroke="#1a1a1a" stroke-width="0.25" text-anchor="middle"><text transform="translate(939.5 485.00) rotate(-90)" x="0" y="0" textLength="7.60" lengthAdjust="spacingAndGlyphs">0</text><text transform="translate(939.5 348.50) rotate(-90)" x="0" y="0" textLength="38.00" lengthAdjust="spacingAndGlyphs">50000</text><text transform="translate(939.5 212.00) rotate(-90)" x="0" y="0" textLength="45.60" lengthAdjust="spacingAndGlyphs">100000</text><text transform="translate(939.5 75.50) rotate(-90)" x="0" y="0" textLength="45.60" lengthAdjust="spacingAndGlyphs">150000</text></g><text transform="translate(45.9 282.6) rotate(-90)" font-size="13" fill="#1a1a1a" stroke="#1a1a1a" stroke-width="0.25" text-anchor="middle" textLength="167" lengthAdjust="spacingAndGlyphs">Αριθμός νέων κρουσμάτων</text><text transform="translate(973.0 281.5) rotate(-90)" font-size="13" fill="#1a1a1a" stroke="#1a1a1a" stroke-width="0.25" text-anchor="middle" textLength="198" lengthAdjust="spacingAndGlyphs">Συνολικός αριθμός κρουσμάτων</text><text x="504.7" y="562" font-size="13" fill="#1a1a1a" stroke="#1a1a1a" stroke-width="0.25" text-anchor="middle" textLength="397" lengthAdjust="spacingAndGlyphs">Ημερομηνία λήψης δείγματος προς εργαστηριακή επιβεβαίωση</text></svg>
</body></html>
